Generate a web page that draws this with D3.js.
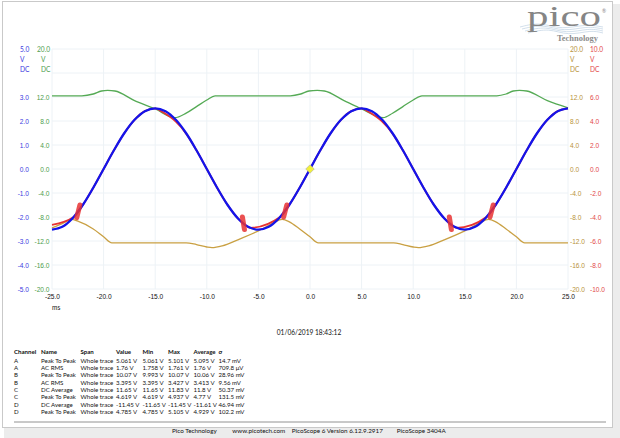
<!DOCTYPE html>
<html>
<head>
<meta charset="utf-8">
<script src="https://cdn.jsdelivr.net/npm/d3@7"></script>
<style>
  body { margin: 0; background: #fff; }
  svg { font-family: Lato, "Open Sans", sans-serif; }
  .tick text { font-size: 6.6px; }
  .tbl text { font-size: 6.1px; fill: #111; }
  .foot text { font-size: 6.3px; fill: #111; }
</style>
</head>
<body>
<svg id="chart" width="620" height="438"></svg>
<script>
// time axis (ms)
const timeTicks = [-25, -20, -15, -10, -5, 0, 5, 10, 15, 20, 25];

// axis tick labels per channel
const ticksA = [3, 2, 1, 0, -1, -2, -3, -4, -5];
const ticksC = [12, 8, 4, 0, -4, -8, -12, -16, -20];
const ticksD = [12, 8, 4, 0, -4, -8, -12, -16, -20];
const ticksB = [6, 4, 2, 0, -2, -4, -6, -8, -10];

// channel A (blue, +-5 V): [ms, V]
const seriesA = [
  [-25, -2.53], [-24, -2.41], [-23, -2.05], [-22, -1.49], [-21, -0.78], [-20, 0],
  [-19, 0.78], [-18, 1.49], [-17, 2.05], [-16, 2.41], [-15, 2.53], [-14, 2.41],
  [-13, 2.05], [-12, 1.49], [-11, 0.78], [-10, 0], [-9, -0.78], [-8, -1.49],
  [-7, -2.05], [-6, -2.41], [-5, -2.53], [-4, -2.41], [-3, -2.05], [-2, -1.49],
  [-1, -0.78], [0, 0], [1, 0.78], [2, 1.49], [3, 2.05], [4, 2.41], [5, 2.53],
  [6, 2.41], [7, 2.05], [8, 1.49], [9, 0.78], [10, 0], [11, -0.78], [12, -1.49],
  [13, -2.05], [14, -2.41], [15, -2.53], [16, -2.41], [17, -2.05], [18, -1.49],
  [19, -0.78], [20, 0], [21, 0.78], [22, 1.49], [23, 2.05], [24, 2.41], [25, 2.53]
];

// channel B (red, +-10 V)
const seriesB = [
  [-25, -4.65], [-22.9, -4.0], [-22, -2.98], [-21, -1.56], [-20, 0], [-19, 1.56],
  [-18, 2.98], [-17, 4.1], [-16, 4.82], [-15, 5.06], [-14.5, 4.85], [-14, 4.6],
  [-13.5, 4.3], [-13, 3.95], [-12, 2.95], [-11, 1.56], [-10, 0], [-9, -1.56],
  [-8, -2.98], [-7, -4.1], [-6.5, -4.51], [-5.8, -4.9], [-2.9, -4.0], [-2, -2.98],
  [-1, -1.56], [0, 0], [1, 1.56], [2, 2.98], [3, 4.1], [4, 4.82], [5, 5.06],
  [5.5, 4.85], [6, 4.6], [6.5, 4.3], [7, 3.95], [8, 2.95], [9, 1.56], [10, 0],
  [11, -1.56], [12, -2.98], [13, -4.1], [13.5, -4.51], [14.2, -4.9], [17.1, -4.0],
  [18, -2.98], [19, -1.56], [20, 0], [21, 1.56], [22, 2.98], [23, 4.1], [24, 4.82],
  [25, 5.06]
];

// noisy bursts on channel B: [t1, v1, t2, v2]
const burstsB = [
  [-22.6, -4.05, -22.3, -3.0],
  [-6.55, -4.0, -6.35, -5.05],
  [-2.55, -4.0, -2.25, -3.0],
  [13.5, -4.0, 13.7, -5.05],
  [17.45, -4.0, 17.75, -3.0]
];

// channel C (green, +-20 V)
const seriesC = [
  [-25, 12.2], [-22.1, 12.2], [-21, 12.5], [-20.2, 13.0], [-19.6, 13.1], [-18.9, 13.0],
  [-17, 11.4], [-15, 10.0], [-13.1, 8.55], [-12, 9.3], [-11, 10.4], [-10, 11.5],
  [-9.2, 12.2], [-1.9, 12.2], [-0.9, 12.5], [-0.1, 13.0], [0.7, 13.1], [1.4, 13.0],
  [3.3, 11.4], [5, 10.0], [7.1, 8.55], [8, 9.3], [9, 10.4], [10, 11.5],
  [10.85, 12.2], [18.1, 12.2], [19, 12.5], [19.7, 13.0], [20.3, 13.1], [21, 13.0],
  [23, 11.4], [25, 10.2]
];

// channel D (gold, +-20 V)
const seriesD = [
  [-25, -9.8], [-24, -9.1], [-23.1, -8.4], [-22.5, -8.7], [-21, -10.0], [-20, -11.3],
  [-19.2, -12.3], [-12, -12.3], [-11, -12.6], [-10, -13.0], [-9.5, -13.1], [-8.5, -12.8],
  [-7, -11.8], [-5, -10.3], [-4, -9.4], [-3, -8.5], [-2.7, -8.4], [-2, -8.8],
  [-1, -10.0], [0, -11.3], [0.8, -12.3], [8.1, -12.3], [9, -12.6], [10, -13.0],
  [10.5, -13.1], [11.5, -12.8], [13, -11.8], [15, -10.3], [16, -9.4], [17, -8.5],
  [17.3, -8.4], [18, -8.8], [19, -10.0], [20, -11.3], [20.8, -12.3], [25, -12.3]
];

const trigger = [0, 0];

// measurements table
const tblHeader = ["Channel", "Name", "Span", "Value", "Min", "Max", "Average", "\u03c3"];
const tblChannel = ["A", "A", "B", "B", "C", "C", "D", "D"];
const tblName = ["Peak To Peak", "AC RMS", "Peak To Peak", "AC RMS", "DC Average", "Peak To Peak", "DC Average", "Peak To Peak"];
const tblSpan = ["Whole trace", "Whole trace", "Whole trace", "Whole trace", "Whole trace", "Whole trace", "Whole trace", "Whole trace"];
const tblValue = ["5.061 V", "1.76 V", "10.07 V", "3.395 V", "11.65 V", "4.619 V", "-11.45 V", "4.785 V"];
const tblMin = ["5.061 V", "1.758 V", "9.993 V", "3.395 V", "11.65 V", "4.619 V", "-11.65 V", "4.785 V"];
const tblMax = ["5.101 V", "1.761 V", "10.07 V", "3.427 V", "11.83 V", "4.937 V", "-11.45 V", "5.105 V"];
const tblAvg = ["5.095 V", "1.76 V", "10.06 V", "3.413 V", "11.8 V", "4.77 V", "-11.61 V", "4.929 V"];
const tblSigma = ["14.7 mV", "709.8 \u03bcV", "28.96 mV", "9.56 mV", "50.37 mV", "131.5 mV", "46.94 mV", "102.2 mV"];

const footer = ["Pico Technology", "www.picotech.com", "PicoScope 6 Version 6.12.9.2917", "PicoScope 3404A"];
const timestamp = "01/06/2019 18:43:12";

const colA = "#1414ea", colB = "#e83232", colC = "#55aa55", colD = "#c9a043";
const txtA = "#3a3ae0", txtB = "#e24848", txtC = "#4d9d4d", txtD = "#b8923a";

const plot = { left: 52, right: 568, top: 49, bottom: 289 };

const svg = d3.select("#chart");

// window frame
svg.append("rect").attr("x", 612).attr("y", 4).attr("width", 8).attr("height", 434).attr("fill", "#ececec");
svg.append("rect").attr("x", 4).attr("y", 428).attr("width", 616).attr("height", 10).attr("fill", "#ececec");
svg.append("rect").attr("x", 2.5).attr("y", 1.5).attr("width", 610).attr("height", 426)
  .attr("fill", "#fff").attr("stroke", "#c9c9c9");

const x = d3.scaleLinear().domain([-25, 25]).range([plot.left, plot.right]);
const yA = d3.scaleLinear().domain([-5, 5]).range([plot.bottom, plot.top]);
const yB = d3.scaleLinear().domain([-10, 10]).range([plot.bottom, plot.top]);
const yC = d3.scaleLinear().domain([-20, 20]).range([plot.bottom, plot.top]);
const yD = d3.scaleLinear().domain([-20, 20]).range([plot.bottom, plot.top]);

// grid
const grid = svg.append("g").attr("class", "grid");
grid.selectAll(".vg").data(timeTicks).join("line")
  .attr("x1", d => x(d)).attr("x2", d => x(d))
  .attr("y1", plot.top).attr("y2", plot.bottom)
  .attr("stroke", "#edf2f6").attr("stroke-width", 1);
grid.selectAll(".hg").data(d3.range(-5, 6)).join("line")
  .attr("x1", plot.left).attr("x2", plot.right)
  .attr("y1", d => yA(d)).attr("y2", d => yA(d))
  .attr("stroke", "#edf2f6").attr("stroke-width", 1);

const fmt = d => d.toFixed(1);

function styleAxis(g, color) {
  g.select(".domain").remove();
  g.selectAll(".tick line").remove();
  g.selectAll(".tick text").attr("fill", color);
}

svg.append("g").attr("transform", `translate(29,0)`)
  .call(d3.axisLeft(yA).tickValues(ticksA).tickFormat(fmt).tickSize(0).tickPadding(0))
  .call(g => styleAxis(g, txtA));
svg.append("g").attr("transform", `translate(49.5,0)`)
  .call(d3.axisLeft(yC).tickValues(ticksC).tickFormat(fmt).tickSize(0).tickPadding(0))
  .call(g => styleAxis(g, txtC));
svg.append("g").attr("transform", `translate(570,0)`)
  .call(d3.axisRight(yD).tickValues(ticksD).tickFormat(fmt).tickSize(0).tickPadding(0))
  .call(g => styleAxis(g, txtD));
svg.append("g").attr("transform", `translate(590,0)`)
  .call(d3.axisRight(yB).tickValues(ticksB).tickFormat(fmt).tickSize(0).tickPadding(0))
  .call(g => styleAxis(g, txtB));

svg.append("g").attr("transform", `translate(0,${plot.bottom})`)
  .call(d3.axisBottom(x).tickValues(timeTicks).tickFormat(fmt).tickSize(0).tickPadding(5))
  .call(g => styleAxis(g, "#111"));

// channel headers
const headers = [
  { x: 20, top: "5.0", color: txtA },
  { x: 37, top: "20.0", color: txtC, sub: 41 },
  { x: 570, top: "20.0", color: txtD },
  { x: 590, top: "10.0", color: txtB }
];
headers.forEach(h => {
  const g = svg.append("g").attr("fill", h.color).attr("font-size", 6.6);
  g.append("text").attr("x", h.x).attr("y", 51.5).text(h.top);
  g.append("text").attr("x", h.sub || h.x).attr("y", 61.5).text("V");
  g.append("text").attr("x", h.sub || h.x).attr("y", 71.5).text("DC");
});

svg.append("text").attr("x", 52).attr("y", 309.5).attr("font-size", 6.6).attr("fill", "#111").text("ms");
svg.append("text").attr("x", 309).attr("y", 335).attr("font-size", 6.6).attr("fill", "#111")
  .attr("text-anchor", "middle").text(timestamp);

// traces
const line = yScale => d3.line().x(d => x(d[0])).y(d => yScale(d[1])).curve(d3.curveMonotoneX);

const traces = svg.append("g").attr("fill", "none").attr("stroke-linejoin", "round");
traces.append("path").datum(seriesD).attr("d", line(yD)).attr("stroke", colD).attr("stroke-width", 1.3);
traces.append("path").datum(seriesC).attr("d", line(yC)).attr("stroke", colC).attr("stroke-width", 1.3);
traces.append("path").datum(seriesB).attr("d", line(yB)).attr("stroke", colB).attr("stroke-width", 1.8);
traces.append("path").datum(seriesA)
  .attr("d", d3.line().x(d => x(d[0])).y(d => yA(d[1])).curve(d3.curveCatmullRom))
  .attr("stroke", colA).attr("stroke-width", 2.3);

traces.selectAll(".burst").data(burstsB).join("line")
  .attr("x1", d => x(d[0])).attr("y1", d => yB(d[1]))
  .attr("x2", d => x(d[2])).attr("y2", d => yB(d[3]))
  .attr("stroke", colB).attr("stroke-width", 5).attr("stroke-linecap", "round").attr("opacity", 0.85);

svg.append("rect")
  .attr("x", x(trigger[0]) - 3).attr("y", yA(trigger[1]) - 3)
  .attr("width", 6).attr("height", 6)
  .attr("transform", `rotate(45,${x(trigger[0])},${yA(trigger[1])})`)
  .attr("fill", "#f2f03a").attr("stroke", "#b0b0a0").attr("stroke-width", 0.6);

// logo
const logo = svg.append("g");
const swoosh = [
  [[520, 27], [540, 22], [562, 30], [585, 24], [603, 27]],
  [[522, 29], [543, 24], [564, 32], [587, 26], [603, 29]],
  [[525, 31], [546, 26], [566, 34], [589, 28], [603, 31]],
  [[528, 33], [549, 28], [568, 36], [591, 30], [603, 33]]
];
logo.selectAll(".sw").data(swoosh).join("path")
  .attr("d", d3.line().curve(d3.curveBasis))
  .attr("fill", "none").attr("stroke", "#b3c9dd").attr("stroke-width", 0.6);
logo.append("text").attr("x", 527).attr("y", 26).attr("font-family", "'Liberation Serif', 'DejaVu Serif', serif")
  .attr("font-size", 29).attr("textLength", 74).attr("lengthAdjust", "spacingAndGlyphs")
  .attr("fill", "#858585").text("pico");
logo.append("text").attr("x", 602).attr("y", 13).attr("font-size", 5).attr("fill", "#858585").text("\u00ae");
logo.append("text").attr("x", 557).attr("y", 40.5).attr("font-family", "'Liberation Serif', 'DejaVu Serif', serif")
  .attr("font-size", 8).attr("font-weight", "bold").attr("textLength", 41).attr("lengthAdjust", "spacingAndGlyphs")
  .attr("fill", "#8c8c8c").text("Technology");

// table
const cols = [14, 41, 80.5, 116, 142.5, 168, 193.5, 218.5];
const rows = d3.range(tblChannel.length).map(i =>
  [tblChannel[i], tblName[i], tblSpan[i], tblValue[i], tblMin[i], tblMax[i], tblAvg[i], tblSigma[i]]);
const tbl = svg.append("g").attr("class", "tbl");
tbl.selectAll(".h").data(tblHeader).join("text")
  .attr("x", (d, i) => cols[i]).attr("y", 354).attr("font-weight", "bold").text(d => d);
rows.forEach((r, j) => {
  tbl.selectAll(`.r${j}`).data(r).join("text").attr("class", `r${j}`)
    .attr("x", (d, i) => cols[i]).attr("y", 362.8 + j * 7.3).text(d => d);
});

svg.append("line").attr("x1", 14).attr("x2", 606).attr("y1", 422).attr("y2", 422)
  .attr("stroke", "#777").attr("stroke-width", 0.8);
const footX = [172, 232.3, 291.7, 396.7];
svg.append("g").attr("class", "foot").selectAll("text").data(footer).join("text")
  .attr("x", (d, i) => footX[i]).attr("y", 433).text(d => d);
</script>
</body>
</html>
